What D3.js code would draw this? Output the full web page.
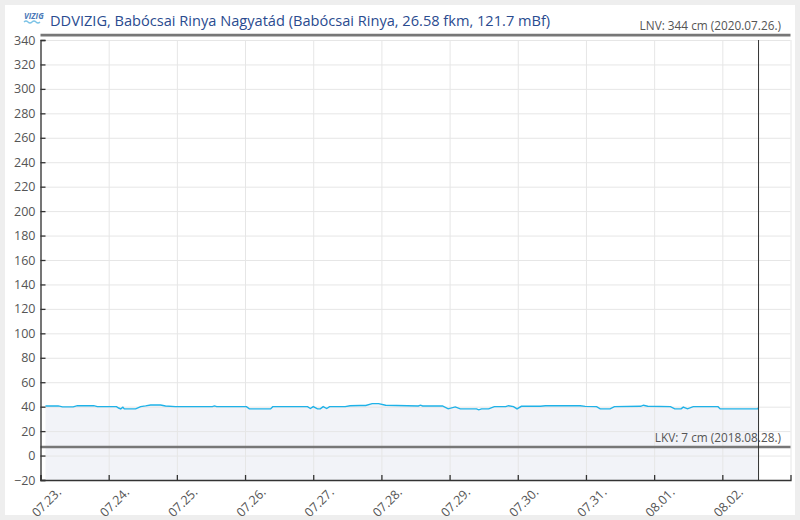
<!DOCTYPE html>
<html lang="hu">
<head>
<meta charset="UTF-8">
<title>DDVIZIG, Babócsai Rinya Nagyatád</title>
<script src="https://d3js.org/d3.v7.min.js"></script>
<style>
    body { margin: 0; padding: 0; background: #eeeeee; font-family: 'Open Sans', sans-serif; overflow: hidden; }
    .axis text { font-family: 'Open Sans', sans-serif; font-size: 12.5px; fill: #555; }
    .axis path, .axis line { stroke: #333; stroke-width: 1.3; }
    .grid line { stroke: #e6e6e6; stroke-width: 1; }
    .grid path { display: none; }
    .ref-label { font-size: 11.8px; fill: #555; }
</style>
</head>
<body>
<div id="chart"></div>
<script>
    // water level readings (cm)
    const times = [
        "07-23 01:45", "07-23 06:15", "07-23 07:45", "07-23 11:30", "07-23 13:00", "07-23 18:45",
        "07-23 20:00", "07-24 02:45", "07-24 03:30", "07-24 04:15", "07-24 05:00", "07-24 05:30",
        "07-24 09:30", "07-24 11:15", "07-24 13:00", "07-24 14:45", "07-24 18:15", "07-24 20:00",
        "07-24 23:30", "07-25 12:30", "07-25 13:15", "07-25 14:00", "07-26 00:30", "07-26 01:30",
        "07-26 09:00", "07-26 09:45", "07-26 22:00", "07-26 23:00", "07-27 00:00", "07-27 01:30",
        "07-27 02:30", "07-27 03:30", "07-27 04:45", "07-27 05:45", "07-27 11:15", "07-27 13:00",
        "07-27 16:30", "07-27 18:30", "07-27 20:45", "07-27 23:00", "07-28 01:30", "07-28 13:00",
        "07-28 13:45", "07-28 14:30", "07-28 21:30", "07-28 23:30", "07-29 02:00", "07-29 03:45",
        "07-29 09:30", "07-29 10:15", "07-29 11:15", "07-29 13:45", "07-29 15:45", "07-29 19:45",
        "07-29 20:45", "07-29 22:30", "07-29 23:45", "07-30 01:15", "07-30 08:00", "07-30 09:45",
        "07-30 22:00", "07-30 23:45", "07-31 03:45", "07-31 05:00", "07-31 08:30", "07-31 10:00",
        "07-31 19:15", "07-31 20:15", "07-31 21:45", "08-01 05:45", "08-01 07:15", "08-01 09:30",
        "08-01 10:15", "08-01 11:45", "08-01 13:45", "08-01 22:30", "08-01 23:15", "08-02 12:30",
        "08-02 12:45"
    ];
    const levels = [
        40.6, 40.6, 39.8, 39.8, 40.8, 40.8,
        40.0, 40.0, 38.9, 38.2, 39.5, 38.2,
        38.2, 40.0, 40.6, 41.4, 41.4, 40.6,
        40.0, 40.0, 40.6, 40.0, 40.0, 38.2,
        38.2, 40.0, 40.0, 38.5, 40.0, 38.2,
        38.2, 40.0, 38.5, 40.0, 40.0, 40.8,
        41.0, 41.0, 42.5, 42.5, 41.2, 40.6,
        41.2, 40.6, 40.6, 38.2, 39.8, 38.2,
        38.2, 37.4, 38.2, 38.2, 40.0, 40.0,
        40.8, 40.0, 38.2, 40.3, 40.3, 40.8,
        40.8, 40.2, 40.0, 38.2, 38.2, 40.0,
        40.3, 41.2, 40.3, 40.0, 38.2, 38.2,
        39.6, 38.2, 40.0, 40.0, 38.2, 38.2,
        39.2
    ];
    const yTicks = [-20, 0, 20, 40, 60, 80, 100, 120, 140, 160, 180, 200, 220, 240, 260, 280, 300, 320, 340];
    const xStart = "07-23 00:00", xEnd = "08-03 00:00", nowTime = "08-02 12:45";
    const lnv = { value: 344, label: "LNV: 344 cm (2020.07.26.)" };
    const lkv = { value: 7, label: "LKV: 7 cm (2018.08.28.)" };
    const title = "DDVIZIG, Babócsai Rinya Nagyatád (Babócsai Rinya, 26.58 fkm, 121.7 mBf)";

    const parse = s => d3.timeParse("%Y-%m-%d %H:%M")("2021-" + s);
    const data = times.map((t, i) => ({ t: parse(t), v: levels[i] }));

    const W = 800, H = 520;
    const plotL = 40.5, plotR = 790.5, plotT = 40, plotB = 480;

    const svg = d3.select("#chart").append("svg").attr("width", W).attr("height", H);

    // white panel
    svg.append("rect").attr("x", 5).attr("y", 5).attr("width", 790).attr("height", 510).attr("fill", "#fff");

    const x = d3.scaleTime().domain([parse(xStart), parse(xEnd)]).range([plotL, plotR]);
    const y = d3.scaleLinear().domain([-20, 340]).range([plotB, plotT]);
    const days = d3.timeDay.range(parse(xStart), parse(xEnd));

    // area fill
    svg.append("path").datum(data)
        .attr("fill", "#f2f3f8")
        .attr("d", d3.area().x(d => x(d.t)).y0(plotB).y1(d => y(d.v)));

    // grid
    svg.append("g").attr("class", "grid")
        .attr("transform", `translate(0,${plotB})`)
        .call(d3.axisBottom(x).tickValues(days.concat([parse(xEnd)])).tickSize(-(plotB - plotT)).tickFormat(""));
    svg.append("g").attr("class", "grid")
        .attr("transform", `translate(${plotL},0)`)
        .call(d3.axisLeft(y).tickValues(yTicks).tickSize(-(plotR - plotL)).tickFormat(""));

    // water level line
    svg.append("path").datum(data)
        .attr("fill", "none")
        .attr("stroke", "#1fb2e8")
        .attr("stroke-width", 1.4)
        .attr("d", d3.line().x(d => x(d.t)).y(d => y(d.v)));

    // reference lines
    [lnv, lkv].forEach(r => {
        svg.append("line")
            .attr("x1", plotL).attr("x2", plotR)
            .attr("y1", y(r.value)).attr("y2", y(r.value))
            .attr("stroke", "#777").attr("stroke-width", 2.6);
        svg.append("text").attr("class", "ref-label")
            .attr("x", 781).attr("y", y(r.value) - 5.5)
            .attr("text-anchor", "end")
            .text(r.label);
    });

    // now marker
    svg.append("line")
        .attr("x1", x(parse(nowTime))).attr("x2", x(parse(nowTime)))
        .attr("y1", plotT).attr("y2", plotB)
        .attr("stroke", "#333").attr("stroke-width", 1);

    // axes
    svg.append("g").attr("class", "axis")
        .attr("transform", `translate(${plotL},0)`)
        .call(d3.axisLeft(y).tickValues(yTicks).tickSize(-5).tickPadding(5));

    svg.append("g").attr("class", "axis")
        .attr("transform", `translate(0,${plotB})`)
        .call(d3.axisBottom(x).tickValues(days).tickSize(-5).tickFormat(d3.timeFormat("%m.%d.")))
        .selectAll("text")
        .attr("x", 0).attr("y", 0).attr("dy", 0)
        .attr("text-anchor", "end")
        .attr("transform", "translate(21,13) rotate(-45)");

    // title with small logo
    const logo = svg.append("g").attr("transform", "translate(24,12)");
    logo.append("text").attr("x", 0).attr("y", 7)
        .attr("font-size", 8).attr("font-style", "italic").attr("font-weight", "bold")
        .attr("fill", "#4a78b8").text("VIZIG");
    logo.append("path").attr("d", "M0,10 q2,-2 4,0 t4,0 t4,0 t4,0")
        .attr("fill", "none").attr("stroke", "#7cc3e6").attr("stroke-width", 1.3);

    svg.append("text")
        .attr("x", 50).attr("y", 26)
        .attr("font-size", 14.6).attr("fill", "#2a4b8f")
        .text(title);
</script>
</body>
</html>
